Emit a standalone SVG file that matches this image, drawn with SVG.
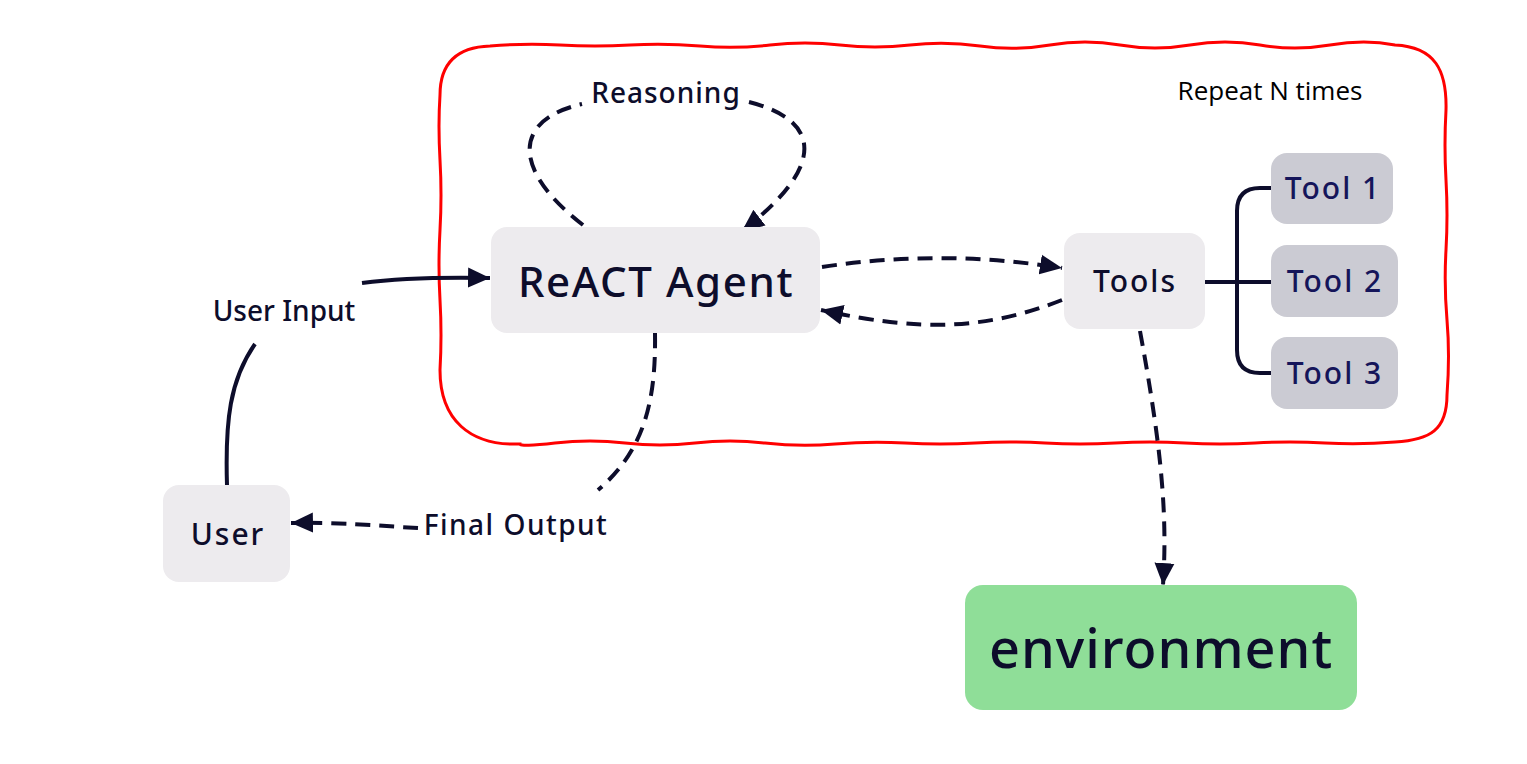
<svg xmlns="http://www.w3.org/2000/svg" width="1527" height="764" viewBox="0 0 1527 764">
<defs>
<style>
.box{fill:#EDEBEE}
.tool{fill:#CBCBD3}
.lbl{font-family:"Noto Sans","DejaVu Sans",sans-serif;font-weight:500;fill:#0D0D2B;text-anchor:middle}
.tl{font-family:"Noto Sans","DejaVu Sans",sans-serif;font-weight:500;fill:#15155A;text-anchor:middle;font-size:30px;letter-spacing:2px}
.ln{fill:none;stroke:#0D0D2B;stroke-width:4}
.dash{stroke-dasharray:15 9}
</style>
<marker id="ah" markerUnits="userSpaceOnUse" markerWidth="24" markerHeight="22" refX="22" refY="11" orient="auto">
<path d="M0,1 L22,11 L0,21 Z" fill="#0D0D2B"/>
</marker>
</defs>
<rect width="1527" height="764" fill="#FFFFFF"/>

<g id="loop-border">
<path d="M440,95 C440,60 460,47 490,46 Q525,43 560,45 T630,45 T700,46 T770,45 T840,45 T910,45 T980,46 T1050,45 T1120,45 T1190,45 T1260,45 T1330,45 T1395,45 C1435,47 1447,70 1446,110 Q1444,145 1446,180 T1446,250 T1447,320 T1447,395 C1447,430 1430,440 1395,442 Q1360,445 1325,443 T1255,443 T1185,443 T1115,443 T1045,443 T975,443 T905,443 T835,444 T765,443 T695,443 T625,443 T555,443 T520,444 C470,446 440,420 440,370 Q442,335 440,300 T440,230 T440,160 T440,95 Z" fill="none" stroke="#FF0000" stroke-width="3"/>
<text x="1270" y="100" font-family="'Open Sans','Liberation Sans',sans-serif" font-size="26" fill="#000000" text-anchor="middle">Repeat N times</text>
</g>

<g id="connectors">
<path class="ln dash" d="M583,225 C512,170 512,120 582,104"/>
<path class="ln dash" d="M749,102 C820,120 828,165 742,231" marker-end="url(#ah)"/>
<path class="ln dash" d="M822,267 C900,255 980,255 1062,268" marker-end="url(#ah)"/>
<path class="ln dash" d="M1062,300 C985,330 920,332 821,310" marker-end="url(#ah)"/>
<path class="ln dash" d="M1140,331 C1160,440 1168,510 1163,585" marker-end="url(#ah)"/>
<path class="ln dash" d="M655,333 C656,400 645,450 598,490"/>
<path class="ln dash" d="M418,528 C380,526 340,522 291,523" marker-end="url(#ah)"/>
<path class="ln" d="M227,485 C225,420 230,380 255,344"/>
<path class="ln" d="M362,283 C400,278 440,277 490,278" marker-end="url(#ah)"/>
<path class="ln" d="M1205,282 H1271 M1271,188 H1260 Q1237,188 1237,211 V350 Q1237,373 1260,373 H1271"/>
<text class="lbl" x="666" y="103" font-size="28" letter-spacing="1">Reasoning</text>
<text class="lbl" x="284" y="321" font-size="28">User Input</text>
<text class="lbl" x="516" y="535" font-size="28" letter-spacing="1.5">Final Output</text>
</g>

<g id="react-agent">
<rect class="box" x="491" y="227" width="329" height="106" rx="16"/>
<text class="lbl" x="656" y="297" font-size="42" letter-spacing="1.6">ReACT Agent</text>
</g>
<g id="tools">
<rect class="box" x="1064" y="233" width="141" height="96" rx="16"/>
<text class="lbl" x="1135" y="292" font-size="30" letter-spacing="2">Tools</text>
</g>
<g id="tool1">
<rect class="tool" x="1271" y="153" width="122" height="71" rx="16"/>
<text class="tl" x="1333" y="199">Tool 1</text>
</g>
<g id="tool2">
<rect class="tool" x="1271" y="245" width="127" height="72" rx="16"/>
<text class="tl" x="1335" y="292">Tool 2</text>
</g>
<g id="tool3">
<rect class="tool" x="1271" y="337" width="127" height="72" rx="16"/>
<text class="tl" x="1335" y="384">Tool 3</text>
</g>
<g id="user">
<rect class="box" x="163" y="485" width="127" height="97" rx="16"/>
<text class="lbl" x="228" y="545" font-size="30" letter-spacing="2">User</text>
</g>
<g id="environment">
<rect x="965" y="585" width="392" height="125" rx="18" fill="#8FDE98"/>
<text class="lbl" x="1161" y="668" font-size="54" letter-spacing="1">environment</text>
</g>
</svg>
